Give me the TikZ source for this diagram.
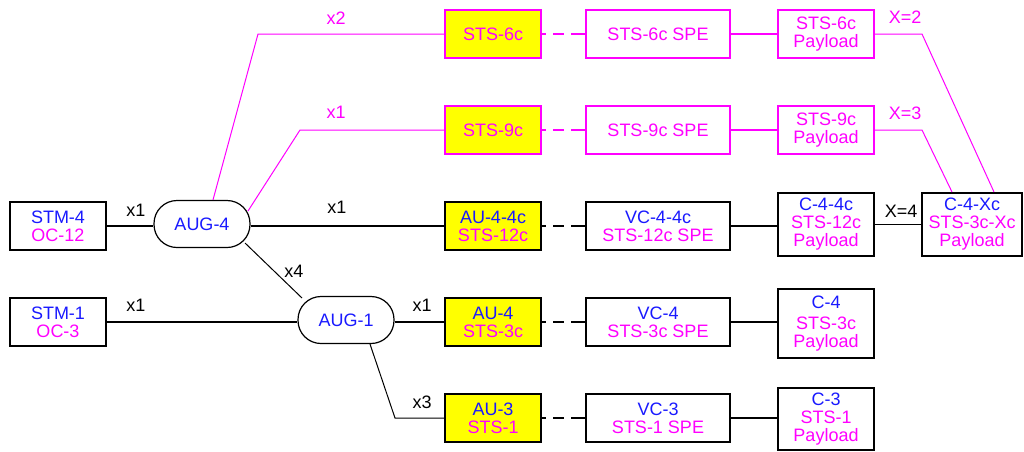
\documentclass[tikz,border=0pt]{standalone}
\usepackage{fontspec}
\setmainfont{Liberation Sans}
\definecolor{bl}{RGB}{25,25,255}
\definecolor{mg}{RGB}{255,0,255}
\definecolor{yl}{RGB}{255,255,0}
\begin{document}
\begin{tikzpicture}[x=1pt,y=-1pt,
  every node/.style={font=\fontsize{18}{18}\selectfont, align=center, inner sep=2pt},
  box/.style={draw, line width=2pt, minimum width=96pt, minimum height=48pt},
  wbox/.style={box, minimum width=144pt},
  ybox/.style={box, fill=yl},
  mbox/.style={draw=mg, text=mg},
  aug/.style={draw, line width=1.2pt, rounded corners=23pt, minimum width=96pt, minimum height=47pt, text=bl},
  conn/.style={line width=1.4pt},
  thin/.style={line width=1pt},
  dsh/.style={line width=1.4pt, dash pattern=on 4pt off 7pt on 11pt off 7pt on 20pt off 1pt},
  lbl/.style={inner sep=0pt}
]
\useasboundingbox (0,0) rectangle (1024,451);
% left
\node[box] (stm4) at (58,226) {\color{bl}STM-4\\\color{mg}OC-12};
\node[box] (stm1) at (58,322) {\color{bl}STM-1\\\color{mg}OC-3};
\node[aug] (aug4) at (202,224) {AUG-4};
\node[aug] (aug1) at (346,320) {AUG-1};
% column AU
\node[ybox, mbox] (sts6c) at (493,34) {STS-6c};
\node[ybox, mbox] (sts9c) at (493,130) {STS-9c};
\node[ybox] (au44c) at (493,226) {\color{bl}AU-4-4c\\\color{mg}STS-12c};
\node[ybox] (au4) at (493,322) {\color{bl}AU-4\\\color{mg}STS-3c};
\node[ybox] (au3) at (493,418) {\color{bl}AU-3\\\color{mg}STS-1};
% column SPE
\node[wbox, mbox] (spe6) at (658,34) {STS-6c SPE};
\node[wbox, mbox] (spe9) at (658,130) {STS-9c SPE};
\node[wbox] (vc44c) at (658,226) {\color{bl}VC-4-4c\\\color{mg}STS-12c SPE};
\node[wbox] (vc4) at (658,322) {\color{bl}VC-4\\\color{mg}STS-3c SPE};
\node[wbox] (vc3) at (658,418) {\color{bl}VC-3\\\color{mg}STS-1 SPE};
% column payload
\node[box, mbox] (pl6) at (826,34) {STS-6c\\Payload};
\node[box, mbox] (pl9) at (826,130) {STS-9c\\Payload};
\node[box, minimum height=63pt] (c44c) at (826,224.5) {\color{bl}C-4-4c\\\color{mg}STS-12c\\\color{mg}Payload};
\node[box, minimum height=69pt] (c4) at (826,323.5) {\color{bl}C-4\\[3pt]\color{mg}STS-3c\\\color{mg}Payload};
\node[box, minimum height=62pt] (c3) at (826,419) {\color{bl}C-3\\\color{mg}STS-1\\\color{mg}Payload};
\node[box, minimum width=100pt, minimum height=63pt] (c4xc) at (972,224.5) {\color{bl}C-4-Xc\\\color{mg}STS-3c-Xc\\\color{mg}Payload};
% bend coordinates
\coordinate (b6) at (258,34);
\coordinate (b9) at (300,130);
\coordinate (b3) at (395,418);
\coordinate (p6) at (922,34);
\coordinate (p9) at (922,130);
% connectors
\draw[conn] (stm4.east) -- (stm4.east -| aug4.west);
\draw[conn] (stm1.east) -- (stm1.east -| aug1.west);
\draw[conn] (au44c.west -| aug4.east) -- (au44c.west);
\draw[conn] (au4.west -| aug1.east) -- (au4.west);
\draw[thin] ([shift={(43,19)}]aug4.center) -- ([shift={(-44,-22)}]aug1.center);
\draw[thin] ([xshift=24pt]aug1.south) -- (b3) -- (au3.west);
\draw[thin, mg] ([xshift=11pt]aug4.north) -- (b6) -- (sts6c.west);
\draw[thin, mg] ([shift={(46,-13)}]aug4.center) -- (b9) -- (sts9c.west);
% dashed
\draw[dsh, mg] (sts6c.east) -- (spe6.west);
\draw[dsh, mg] (sts9c.east) -- (spe9.west);
\draw[dsh] (au44c.east) -- (vc44c.west);
\draw[dsh] (au4.east) -- (vc4.west);
\draw[dsh] (au3.east) -- (vc3.west);
% spe to payload
\draw[conn, mg] (spe6.east) -- (pl6.west);
\draw[conn, mg] (spe9.east) -- (pl9.west);
\draw[conn] (vc44c.east) -- (vc44c.east -| c44c.west);
\draw[conn] (vc4.east) -- (vc4.east -| c4.west);
\draw[conn] (vc3.east) -- (vc3.east -| c3.west);
% payload to C-4-Xc
\draw[thin, mg] (pl6.east) -- (p6) -- ([xshift=22pt]c4xc.north);
\draw[thin, mg] (pl9.east) -- (p9) -- ([xshift=-20pt]c4xc.north);
\draw[conn] (c44c.east) -- (c4xc.west);
% labels
\node[lbl] (l1) at (136,210) {x1};
\node[lbl] (l2) at (136,305) {x1};
\node[lbl] (l3) at (337,207) {x1};
\node[lbl] (l4) at (294,271) {x4};
\node[lbl] (l5) at (422,305) {x1};
\node[lbl] (l6) at (422,402) {x3};
\node[lbl, text=mg] (l7) at (336,18) {x2};
\node[lbl, text=mg] (l8) at (336,112) {x1};
\node[lbl, text=mg] (l9) at (905,17) {X=2};
\node[lbl, text=mg] (l10) at (905,113) {X=3};
\node[lbl] (l11) at (901,211) {X=4};
\end{tikzpicture}
\end{document}
